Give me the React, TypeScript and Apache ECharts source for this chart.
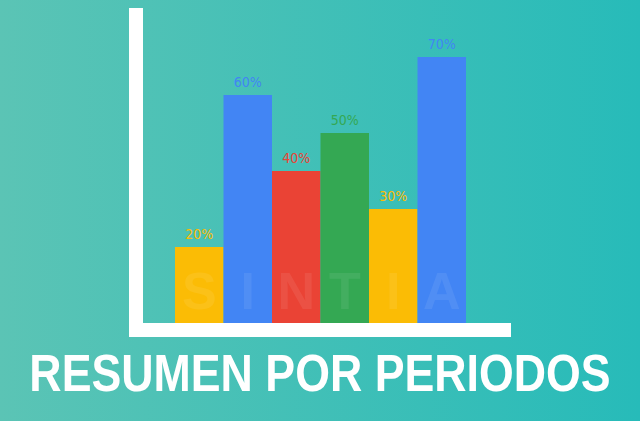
import React, { useEffect, useRef } from "react";
import * as echarts from "echarts";

const categories = ["P1", "P2", "P3", "P4", "P5", "P6"];
const values = [20, 60, 40, 50, 30, 70];
const barColors = ["#FBBC05", "#4285F4", "#EA4335", "#34A853", "#FBBC05", "#4285F4"];
const watermarkLetters = ["S", "I", "N", "T", "I", "A"];
const watermarkLevel = 8.4;
const titleText = "RESUMEN POR PERIODOS";

export default function App() {
  const ref = useRef<HTMLDivElement>(null);
  useEffect(() => {
    document.body.style.margin = "0";
    if (!ref.current) return;
    const chart = echarts.init(ref.current, null, { renderer: "svg" });
    chart.setOption({
      animation: false,
      backgroundColor: new echarts.graphic.LinearGradient(0, 0, 1, 0, [
        { offset: 0, color: "#5bc4b5" },
        { offset: 1, color: "#27bbb9" },
      ]),
      grid: { left: 175, right: 174, top: 19, bottom: 98 },
      xAxis: {
        type: "category",
        data: categories,
        axisLine: { show: false },
        axisTick: { show: false },
        axisLabel: { show: false },
      },
      yAxis: {
        type: "value",
        min: 0,
        max: 80,
        show: false,
        splitLine: { show: false },
      },
      graphic: [
        { type: "rect", shape: { x: 129, y: 8, width: 14, height: 329 }, style: { fill: "#ffffff" }, z: 100 },
        { type: "rect", shape: { x: 129, y: 323, width: 382, height: 14 }, style: { fill: "#ffffff" }, z: 100 },
        {
          type: "text",
          x: 320,
          y: 373,
          scaleX: 0.86,
          style: {
            text: titleText,
            fill: "#ffffff",
            font: "bold 52px 'Liberation Sans', Arial, sans-serif",
            textAlign: "center",
            textVerticalAlign: "middle",
          },
        },
      ],
      series: [
        {
          type: "bar",
          barCategoryGap: 0,
          data: values.map((v, i) => ({
            value: v,
            itemStyle: { color: barColors[i] },
            label: { color: barColors[i] },
          })),
          label: {
            show: true,
            position: "top",
            distance: 6,
            formatter: "{c}%",
            fontSize: 14,
            fontFamily: "'Liberation Sans Narrow', 'DejaVu Sans Condensed', sans-serif",
          },
        },
        {
          type: "scatter",
          symbolSize: 0,
          z: 5,
          data: watermarkLetters.map((_, i) => [categories[i], watermarkLevel]),
          label: {
            show: true,
            position: "inside",
            formatter: (p: any) => watermarkLetters[p.dataIndex],
            fontSize: 52,
            fontWeight: "bold",
            fontFamily: "'Liberation Sans', Arial, sans-serif",
            color: "rgba(255,255,255,0.1)",
          },
        },
      ],
    });
    return () => chart.dispose();
  }, []);
  return <div ref={ref} style={{ width: 640, height: 421 }} />;
}
